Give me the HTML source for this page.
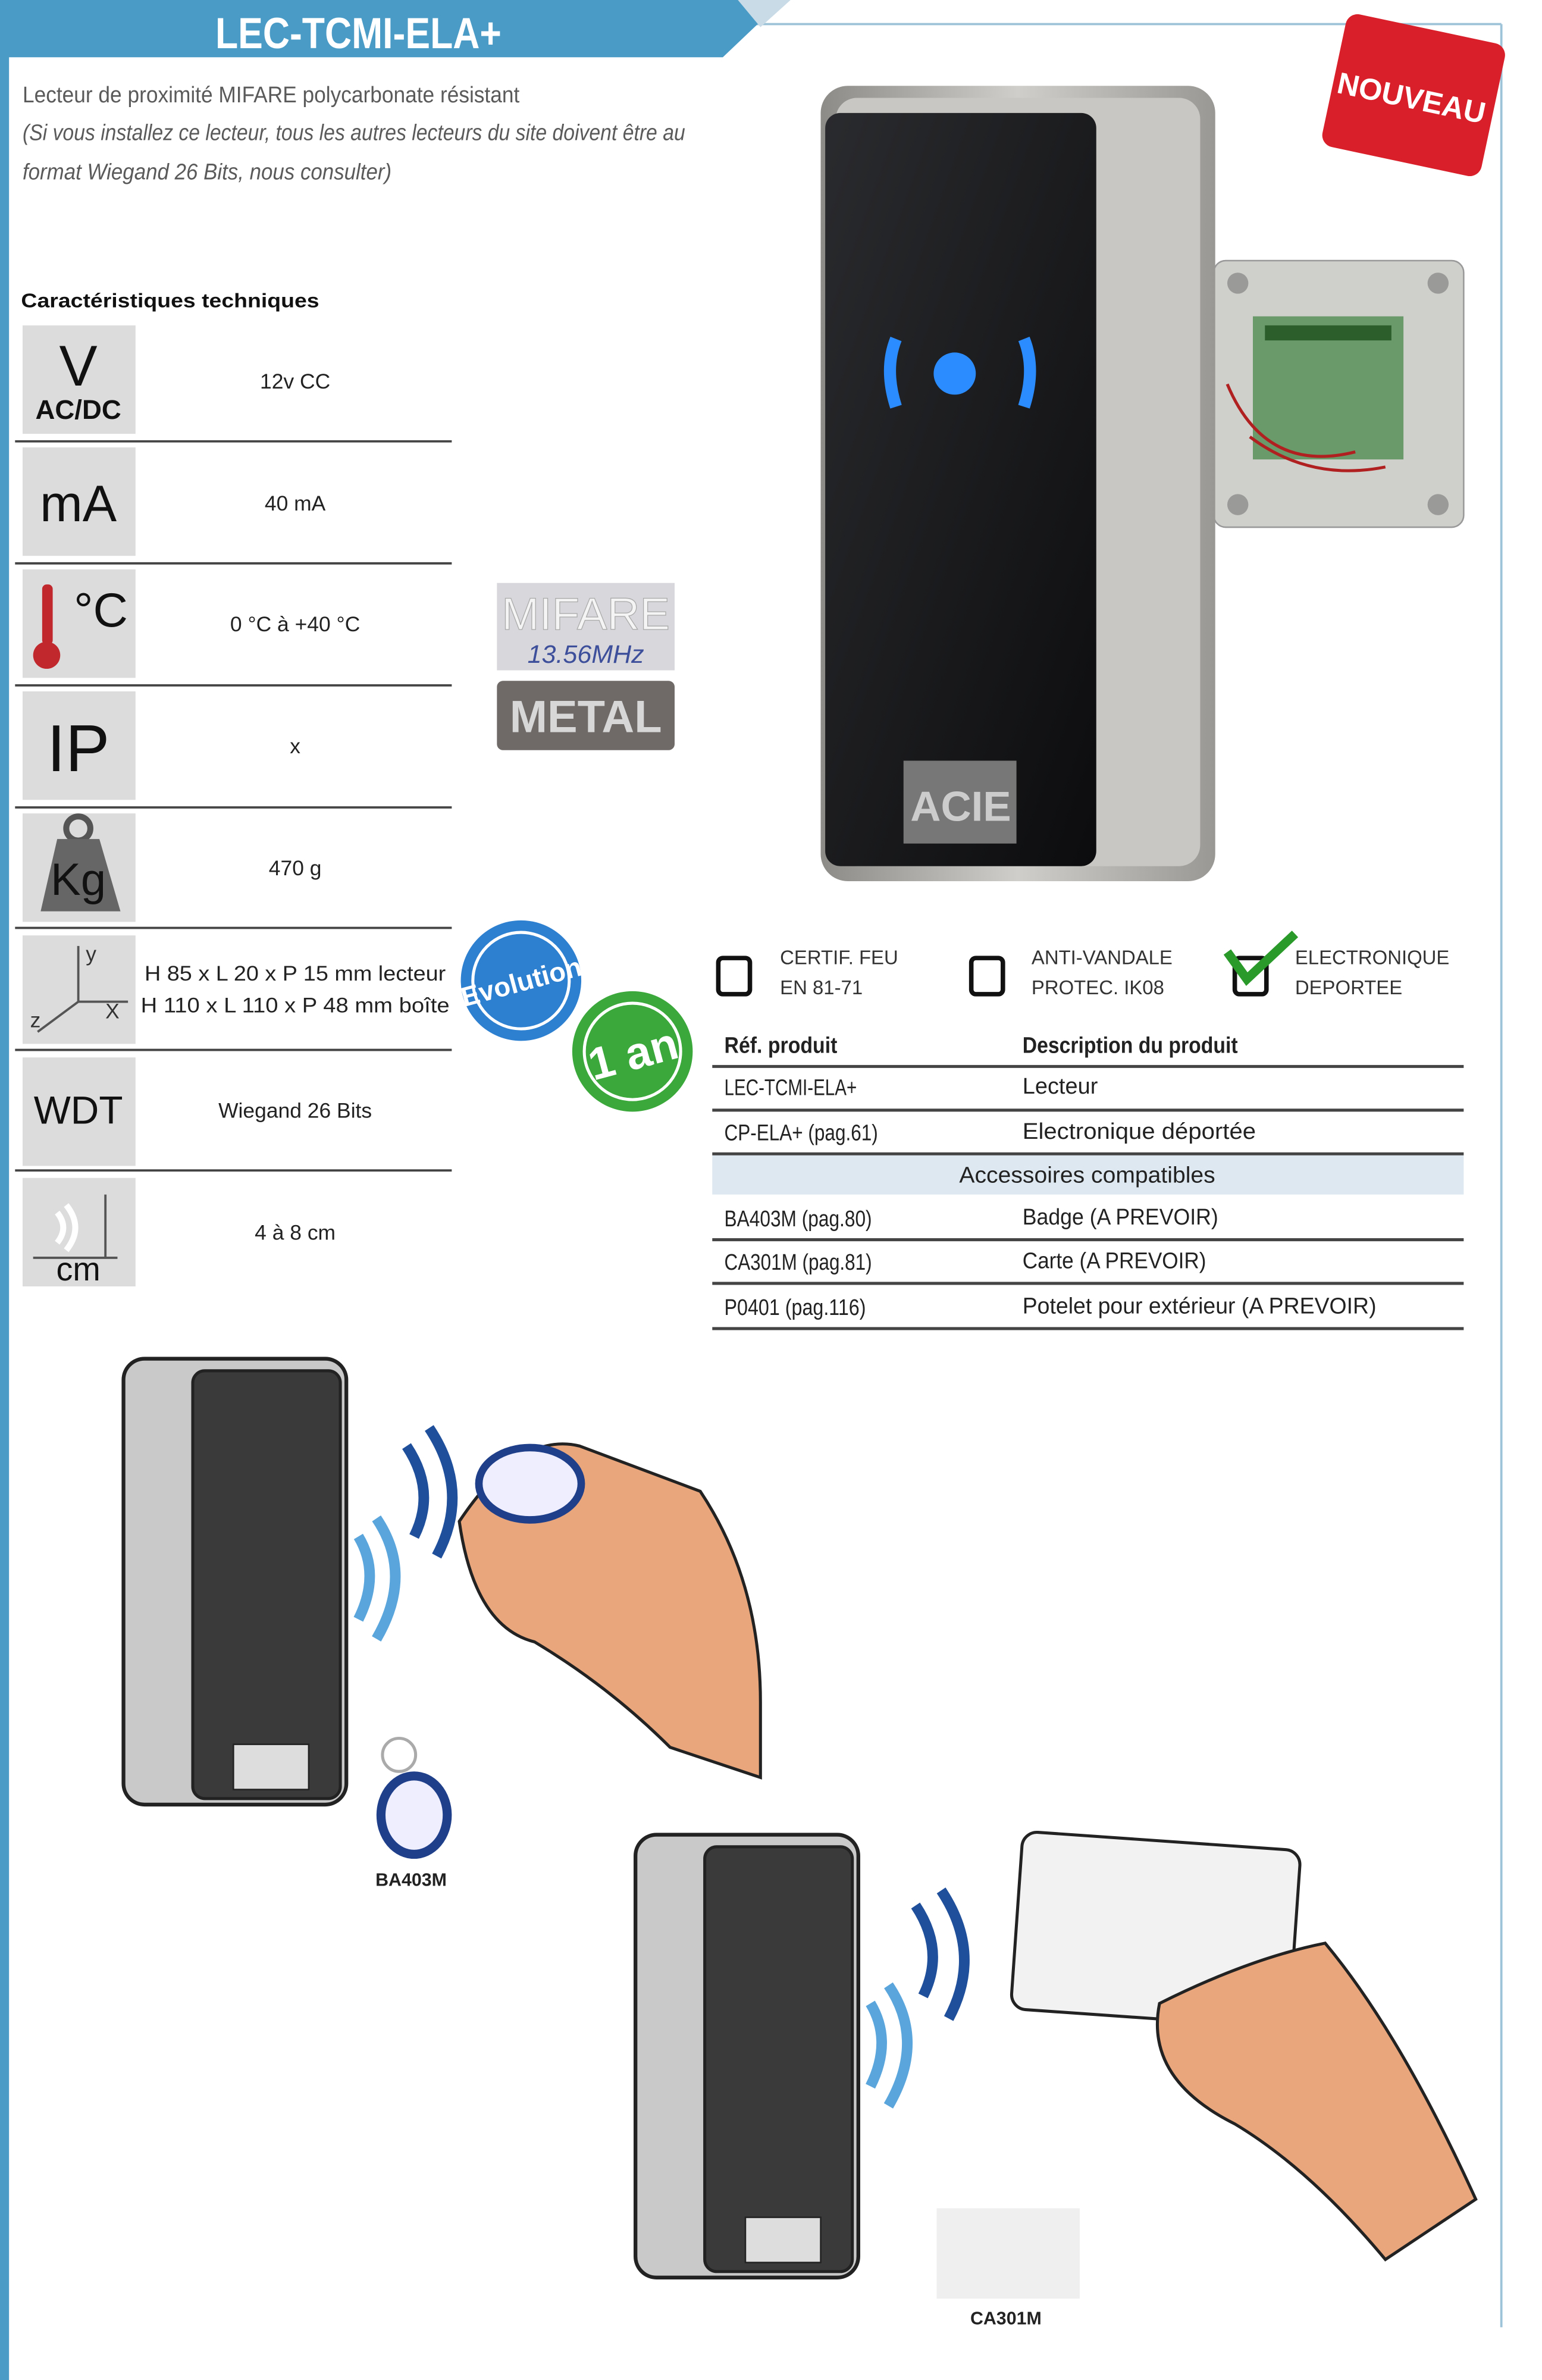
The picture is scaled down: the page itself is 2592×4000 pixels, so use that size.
<!DOCTYPE html>
<html><head><meta charset="utf-8"><style>
html,body{margin:0;padding:0;background:#fff;width:2592px;height:4000px;overflow:hidden}
svg{display:block}
text{font-family:"Liberation Sans Narrow","Liberation Sans",sans-serif}
</style></head><body>
<svg width="2592" height="4000" viewBox="0 0 1024 1580" preserveAspectRatio="none" xmlns="http://www.w3.org/2000/svg">
<defs>
<linearGradient id="met" x1="0" x2="1" y1="0" y2="0"><stop offset="0" stop-color="#8d8b87"/><stop offset=".5" stop-color="#d0ceca"/><stop offset="1" stop-color="#9a9894"/></linearGradient>
<linearGradient id="fr" x1="0" x2="1" y1="0" y2="1"><stop offset="0" stop-color="#2a2b2e"/><stop offset="1" stop-color="#0c0c0e"/></linearGradient>
</defs>
<rect width="1024" height="1580" fill="#fff"/>
<rect x="0" y="0" width="6" height="1580" fill="#4a9cc7"/>
<line x1="997" y1="16" x2="997" y2="1545" stroke="#9cc3d8" stroke-width="1.5"/>
<line x1="500" y1="16" x2="997" y2="16" stroke="#9cc3d8" stroke-width="1.5"/>
<polygon points="0,0 520,0 480,38 0,38" fill="#4a9cc7"/>
<polygon points="490,0 525,0 505,18" fill="#c9dbe6"/>
<text x="238" y="32" text-anchor="middle" font-size="29" font-weight="bold" fill="#fff" textLength="190" lengthAdjust="spacingAndGlyphs">LEC-TCMI-ELA+</text>
<g fill="#5a5a5a" font-size="15">
<text x="15" y="68" textLength="330" lengthAdjust="spacingAndGlyphs">Lecteur de proximité MIFARE polycarbonate résistant</text>
<text x="15" y="93" font-style="italic" textLength="440" lengthAdjust="spacingAndGlyphs">(Si vous installez ce lecteur, tous les autres lecteurs du site doivent être au</text>
<text x="15" y="119" font-style="italic" textLength="245" lengthAdjust="spacingAndGlyphs">format Wiegand 26 Bits, nous consulter)</text>
</g>
<text x="14" y="204" font-size="13" font-weight="bold" fill="#111" textLength="198" lengthAdjust="spacingAndGlyphs">Caractéristiques techniques</text>
<g fill="#dcdcdc">
<rect x="15" y="216" width="75" height="72"/><rect x="15" y="297" width="75" height="72"/>
<rect x="15" y="378" width="75" height="72"/><rect x="15" y="459" width="75" height="72"/>
<rect x="15" y="540" width="75" height="72"/><rect x="15" y="621" width="75" height="72"/>
<rect x="15" y="702" width="75" height="72"/><rect x="15" y="782" width="75" height="72"/>
</g>
<g stroke="#444" stroke-width="1.5">
<line x1="10" y1="293" x2="300" y2="293"/><line x1="10" y1="374" x2="300" y2="374"/>
<line x1="10" y1="455" x2="300" y2="455"/><line x1="10" y1="536" x2="300" y2="536"/>
<line x1="10" y1="616" x2="300" y2="616"/><line x1="10" y1="697" x2="300" y2="697"/>
<line x1="10" y1="777" x2="300" y2="777"/>
</g>
<g fill="#111">
<text x="52" y="256" font-size="38" text-anchor="middle">V</text>
<text x="52" y="278" font-size="18" font-weight="bold" text-anchor="middle">AC/DC</text>
<text x="52" y="346" font-size="34" text-anchor="middle">mA</text>
<text x="67" y="416" font-size="32" text-anchor="middle">°C</text>
<text x="52" y="512" font-size="44" text-anchor="middle">IP</text>
<text x="52" y="746" font-size="26" text-anchor="middle">WDT</text>
<text x="52" y="850" font-size="22" text-anchor="middle">cm</text>
</g>
<rect x="28" y="388" width="7" height="40" rx="3" fill="#c0282d"/><circle cx="31" cy="435" r="9" fill="#c0282d"/>
<circle cx="52" cy="550" r="8" fill="none" stroke="#555" stroke-width="4"/>
<polygon points="27,605 38,557 66,557 80,605" fill="#666"/>
<text x="52" y="594" font-size="30" text-anchor="middle" fill="#111">Kg</text>
<g stroke="#555" stroke-width="1.5" fill="none"><path d="M52 628 V665 H85 M52 665 L25 685"/><path d="M70 793 V835 M22 835 H78"/></g>
<text x="57" y="638" font-size="14" fill="#333">y</text><text x="70" y="676" font-size="14" fill="#333">X</text><text x="20" y="682" font-size="14" fill="#333">z</text>
<path d="M38 805 q8 10 0 20 M44 800 q12 15 0 30" stroke="#fff" stroke-width="4" fill="none"/>
<g fill="#222" font-size="14" text-anchor="middle">
<text x="196" y="258">12v CC</text><text x="196" y="339">40 mA</text>
<text x="196" y="419">0 °C à +40 °C</text><text x="196" y="500">x</text>
<text x="196" y="581">470 g</text>
<text x="196" y="651" textLength="200" lengthAdjust="spacingAndGlyphs">H 85 x L 20 x P 15 mm lecteur</text>
<text x="196" y="672" textLength="205" lengthAdjust="spacingAndGlyphs">H 110 x L 110 x P 48 mm boîte</text>
<text x="196" y="742">Wiegand 26 Bits</text><text x="196" y="823">4 à 8 cm</text>
</g>
<rect x="330" y="387" width="118" height="58" fill="#d8d8dc"/>
<text x="389" y="418" font-size="30" fill="#f4f4f4" text-anchor="middle" stroke="#aaa" stroke-width=".5">MIFARE</text>
<text x="389" y="440" font-size="17" font-style="italic" fill="#3d4e9a" text-anchor="middle">13.56MHz</text>
<rect x="330" y="452" width="118" height="46" rx="4" fill="#6f6a68"/>
<text x="389" y="486" font-size="30" font-weight="bold" fill="#d7d7d7" text-anchor="middle">METAL</text>
<circle cx="346" cy="651" r="40" fill="#2d7fd0"/><circle cx="346" cy="651" r="32" fill="none" stroke="#fff" stroke-width="2"/>
<text x="346" y="658" font-size="18" font-weight="bold" fill="#fff" text-anchor="middle" transform="rotate(-15 346 651)">Evolution</text>
<circle cx="420" cy="698" r="40" fill="#3aa83a"/><circle cx="420" cy="698" r="32" fill="none" stroke="#fff" stroke-width="2"/>
<text x="420" y="710" font-size="30" font-weight="bold" fill="#fff" text-anchor="middle" transform="rotate(-15 420 698)">1 an</text>
<g transform="rotate(12 938 62)"><rect x="885" y="18" width="108" height="90" rx="8" fill="#d9202a"/>
<text x="938" y="72" font-size="20" font-weight="bold" fill="#fff" text-anchor="middle">NOUVEAU</text></g>
<rect x="806" y="173" width="166" height="177" rx="8" fill="#cfcfcc" stroke="#999"/>
<g fill="#9a9a98"><circle cx="822" cy="188" r="7"/><circle cx="955" cy="188" r="7"/><circle cx="822" cy="335" r="7"/><circle cx="955" cy="335" r="7"/></g>
<rect x="832" y="210" width="100" height="95" fill="#6b9a6a"/>
<rect x="840" y="216" width="84" height="10" fill="#2c5e2c"/>
<path d="M815 255 q25 60 85 45 M830 290 q40 30 90 20" stroke="#b02020" stroke-width="2" fill="none"/>
<rect x="545" y="57" width="262" height="528" rx="18" fill="url(#met)"/>
<rect x="555" y="65" width="242" height="510" rx="14" fill="#c9c7c3"/>
<rect x="548" y="75" width="180" height="500" rx="10" fill="url(#fr)"/>
<path d="M595 225 q-8 20 0 45 M680 225 q8 20 0 45" stroke="#2a8cff" stroke-width="8" fill="none"/>
<circle cx="634" cy="248" r="14" fill="#2a8cff"/>
<rect x="600" y="505" width="75" height="55" fill="#777"/>
<text x="638" y="545" font-size="28" font-weight="bold" fill="#ccc" text-anchor="middle">ACIE</text>
<g fill="none" stroke="#111" stroke-width="3">
<rect x="477" y="636" width="21" height="24" rx="3"/><rect x="645" y="636" width="21" height="24" rx="3"/><rect x="820" y="636" width="21" height="24" rx="3"/></g>
<path d="M815 632 L828 650 L860 620" stroke="#2a9a2a" stroke-width="6" fill="none"/>
<g fill="#333" font-size="13">
<text x="518" y="640">CERTIF. FEU</text><text x="518" y="660">EN 81-71</text>
<text x="685" y="640">ANTI-VANDALE</text><text x="685" y="660">PROTEC. IK08</text>
<text x="860" y="640">ELECTRONIQUE</text><text x="860" y="660">DEPORTEE</text></g>
<rect x="473" y="767" width="499" height="26" fill="#dde8f0"/>
<g stroke="#444" stroke-width="2">
<line x1="473" y1="708" x2="972" y2="708"/><line x1="473" y1="737" x2="972" y2="737"/>
<line x1="473" y1="766" x2="972" y2="766"/><line x1="473" y1="823" x2="972" y2="823"/>
<line x1="473" y1="852" x2="972" y2="852"/><line x1="473" y1="882" x2="972" y2="882"/></g>
<g fill="#222" font-size="15">
<text x="481" y="699" font-weight="bold" textLength="75" lengthAdjust="spacingAndGlyphs">Réf. produit</text>
<text x="679" y="699" font-weight="bold" textLength="143" lengthAdjust="spacingAndGlyphs">Description du produit</text>
<text x="481" y="727" textLength="88" lengthAdjust="spacingAndGlyphs">LEC-TCMI-ELA+</text><text x="679" y="726">Lecteur</text>
<text x="481" y="757" textLength="102" lengthAdjust="spacingAndGlyphs">CP-ELA+ (pag.61)</text><text x="679" y="756" textLength="155" lengthAdjust="spacingAndGlyphs">Electronique déportée</text>
<text x="722" y="785" text-anchor="middle" textLength="170" lengthAdjust="spacingAndGlyphs">Accessoires compatibles</text>
<text x="481" y="814" textLength="98" lengthAdjust="spacingAndGlyphs">BA403M (pag.80)</text><text x="679" y="813" textLength="130" lengthAdjust="spacingAndGlyphs">Badge (A PREVOIR)</text>
<text x="481" y="843" textLength="98" lengthAdjust="spacingAndGlyphs">CA301M (pag.81)</text><text x="679" y="842" textLength="122" lengthAdjust="spacingAndGlyphs">Carte (A PREVOIR)</text>
<text x="481" y="873" textLength="94" lengthAdjust="spacingAndGlyphs">P0401 (pag.116)</text><text x="679" y="872" textLength="235" lengthAdjust="spacingAndGlyphs">Potelet pour extérieur (A PREVOIR)</text>
</g>
<rect x="82" y="902" width="148" height="296" rx="14" fill="#c9c9c9" stroke="#222" stroke-width="2.5"/>
<rect x="128" y="910" width="98" height="284" rx="8" fill="#3a3a3a" stroke="#222" stroke-width="2"/>
<rect x="155" y="1158" width="50" height="30" fill="#ddd" stroke="#222"/>
<g fill="none" stroke-width="7">
<path d="M238 1020 q15 25 0 55" stroke="#5aa6dc"/><path d="M250 1008 q25 37 0 80" stroke="#5aa6dc"/>
<path d="M270 960 q20 30 5 60" stroke="#1f4f9a"/><path d="M285 948 q28 42 5 85" stroke="#1f4f9a"/></g>
<path d="M305 1010 q40 -60 80 -50 l80 30 q40 60 40 140 l0 50 l-60 -20 q-40 -40 -90 -70 q-40 -10 -50 -80z" fill="#e9a67c" stroke="#222" stroke-width="2"/>
<ellipse cx="352" cy="985" rx="34" ry="24" fill="#eef" stroke="#1f3f8a" stroke-width="5"/>
<ellipse cx="275" cy="1205" rx="22" ry="26" fill="#eef" stroke="#1f3f8a" stroke-width="6"/>
<circle cx="265" cy="1165" r="11" fill="none" stroke="#aaa" stroke-width="2"/>
<text x="273" y="1252" font-size="12" font-weight="bold" fill="#222" text-anchor="middle">BA403M</text>
<rect x="422" y="1218" width="148" height="294" rx="14" fill="#c9c9c9" stroke="#222" stroke-width="2.5"/>
<rect x="468" y="1226" width="98" height="282" rx="8" fill="#3a3a3a" stroke="#222" stroke-width="2"/>
<rect x="495" y="1472" width="50" height="30" fill="#ddd" stroke="#222"/>
<g fill="none" stroke-width="7">
<path d="M578 1330 q15 25 0 55" stroke="#5aa6dc"/><path d="M590 1318 q25 37 0 80" stroke="#5aa6dc"/>
<path d="M608 1265 q20 30 5 60" stroke="#1f4f9a"/><path d="M625 1255 q28 42 5 85" stroke="#1f4f9a"/></g>
<rect x="675" y="1222" width="185" height="118" rx="10" fill="#f2f2f2" stroke="#222" stroke-width="2" transform="rotate(4 767 1281)"/>
<path d="M770 1330 q60 -30 110 -40 q50 60 100 170 l-60 40 q-50 -60 -100 -90 q-60 -30 -50 -80z" fill="#e9a67c" stroke="#222" stroke-width="2"/>
<rect x="622" y="1466" width="95" height="60" fill="#efefef"/>
<text x="668" y="1543" font-size="12" font-weight="bold" fill="#222" text-anchor="middle">CA301M</text>
</svg>
</body></html>
